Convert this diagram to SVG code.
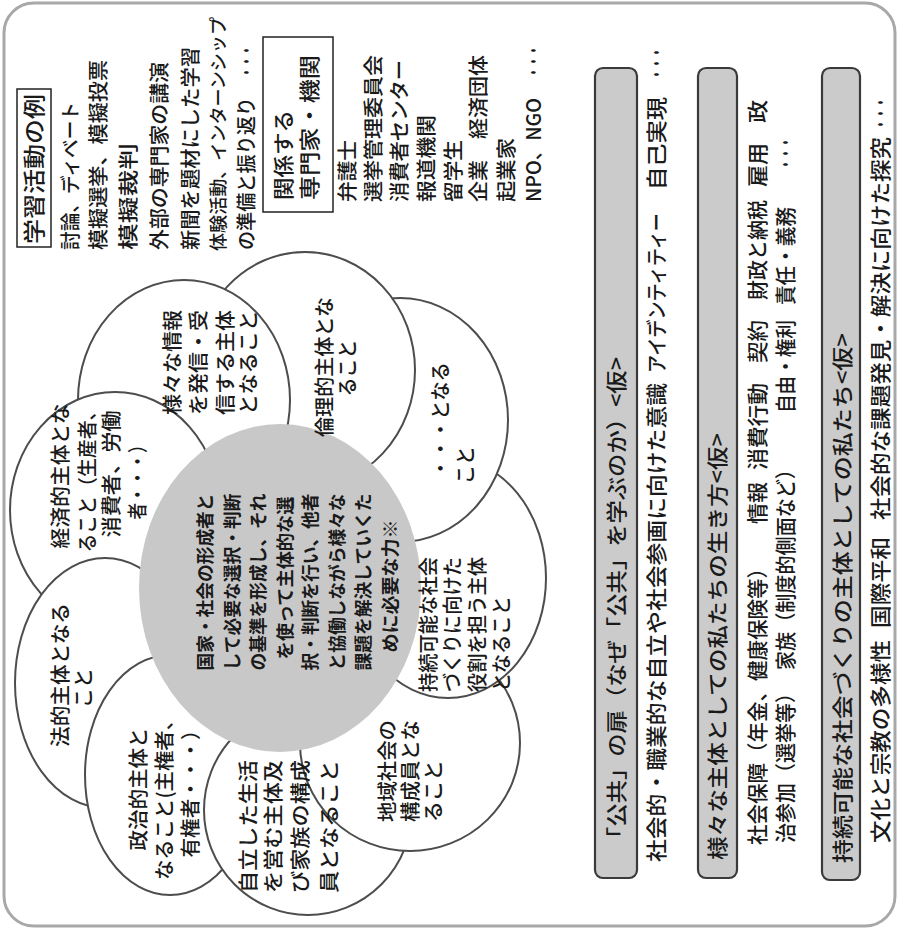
<svg xmlns="http://www.w3.org/2000/svg" width="898" height="930" viewBox="0 0 898 930">
<style>
text{font-family:"Noto Sans CJK JP","Noto Sans CJK SC",sans-serif;fill:#1a1a1a;font-size:20px;font-weight:500}
.f21{font-size:21px}
.b{font-weight:bold;font-size:18px}
.m{text-anchor:middle}
.p{fill:#fff;stroke:#4d4d4d;stroke-width:2}
.box{fill:#fff;stroke:#222;stroke-width:1.5}
.bar{fill:#cbcbcb;stroke:#3a3a3a;stroke-width:2.2}
</style>
<defs>
<clipPath id="clipA"><ellipse cx="184" cy="400" rx="108" ry="122"/></clipPath>
</defs>
<rect id="frame" x="4" y="3" width="891" height="923" rx="30" fill="#fff" stroke="#a8a8a8" stroke-width="3"/>

<g id="petals">
<g id="petal-I"><ellipse id="elI" class="p" cx="115" cy="510" rx="105" ry="118"/></g>
<g id="petal-H"><ellipse class="p" cx="105" cy="683" rx="90" ry="125"/></g>
<g id="petal-G"><ellipse class="p" cx="170" cy="775" rx="85" ry="120"/></g>
<g id="petal-F"><ellipse class="p" cx="308" cy="810" rx="104" ry="105"/></g>
<g id="petal-E"><ellipse class="p" cx="410" cy="743" rx="110" ry="108"/></g>
<g id="petal-D"><ellipse class="p" cx="448" cy="578" rx="98" ry="120"/></g>
<g id="petal-C"><ellipse class="p" cx="400" cy="420" rx="108" ry="122"/></g>
<g id="petal-B"><ellipse class="p" cx="305" cy="370" rx="110" ry="118"/></g>
<g id="petal-A"><ellipse class="p" cx="184" cy="400" rx="106" ry="120"/></g>
<g id="petal-I-over-A"><use href="#elI" clip-path="url(#clipA)"/></g>
</g>
<g id="center"><ellipse cx="280" cy="588" rx="141" ry="164" fill="#c8c8c8"/></g>
<g id="connectors"/>

<g id="learning-activities">
<rect class="box" x="17" y="89" width="34" height="158"/>
<text class="f21" style="font-size:22px" transform="translate(42,244) rotate(-90)" textLength="150" lengthAdjust="spacingAndGlyphs">学習活動の例</text>
<text transform="translate(78,250) rotate(-90)" textLength="148" lengthAdjust="spacingAndGlyphs">討論、ディベート</text>
<text transform="translate(106,250) rotate(-90)" textLength="190" lengthAdjust="spacingAndGlyphs">模擬選挙、模擬投票</text>
<text transform="translate(136,250) rotate(-90)" textLength="107" lengthAdjust="spacingAndGlyphs">模擬裁判</text>
<text transform="translate(167,250) rotate(-90)" textLength="188" lengthAdjust="spacingAndGlyphs">外部の専門家の講演</text>
<text transform="translate(198,250) rotate(-90)" textLength="203" lengthAdjust="spacingAndGlyphs">新聞を題材にした学習</text>
<text style="font-size:18px" transform="translate(225,251) rotate(-90)" textLength="234" lengthAdjust="spacingAndGlyphs">体験活動、インターンシップ</text>
<text transform="translate(254,250) rotate(-90)" textLength="153" lengthAdjust="spacingAndGlyphs">の準備と振り返り</text>
<text transform="translate(254,78) rotate(-90)" textLength="33" lengthAdjust="spacingAndGlyphs">・・・</text>
</g>

<g id="experts">
<rect class="box" x="263" y="37" width="70" height="175"/>
<text class="f21" transform="translate(291,200) rotate(-90)" textLength="90" lengthAdjust="spacingAndGlyphs">関係する</text>
<text class="f21" transform="translate(317,200) rotate(-90)" textLength="145" lengthAdjust="spacingAndGlyphs">専門家・機関</text>
<text transform="translate(355,202) rotate(-90)" textLength="62" lengthAdjust="spacingAndGlyphs">弁護士</text>
<text transform="translate(381,202) rotate(-90)" textLength="147" lengthAdjust="spacingAndGlyphs">選挙管理委員会</text>
<text transform="translate(407,202) rotate(-90)" textLength="142" lengthAdjust="spacingAndGlyphs">消費者センター</text>
<text transform="translate(434,202) rotate(-90)" textLength="87" lengthAdjust="spacingAndGlyphs">報道機関</text>
<text transform="translate(461,202) rotate(-90)" textLength="62" lengthAdjust="spacingAndGlyphs">留学生</text>
<text transform="translate(486,202) rotate(-90)" textLength="147" lengthAdjust="spacingAndGlyphs">企業　経済団体</text>
<text transform="translate(514,202) rotate(-90)" textLength="64" lengthAdjust="spacingAndGlyphs">起業家</text>
<text transform="translate(541,202) rotate(-90)" textLength="104" lengthAdjust="spacingAndGlyphs">NPO、NGO</text>
<text transform="translate(541,78) rotate(-90)" textLength="33" lengthAdjust="spacingAndGlyphs">・・・</text>
</g>

<g id="panel-1">
<rect class="bar" x="595" y="68" width="42" height="810" rx="8"/>
<text class="f21" transform="translate(624,850) rotate(-90)" textLength="493" lengthAdjust="spacingAndGlyphs">「公共」の扉（なぜ「公共」を学ぶのか）&lt;仮&gt;</text>
<text class="f21" transform="translate(664,862) rotate(-90)" textLength="479" lengthAdjust="spacingAndGlyphs">社会的・職業的な自立や社会参画に向けた意識</text>
<text class="f21" transform="translate(664,373) rotate(-90)" textLength="160" lengthAdjust="spacingAndGlyphs">アイデンティティー</text>
<text class="f21" transform="translate(664,190) rotate(-90)" textLength="93" lengthAdjust="spacingAndGlyphs">自己実現</text>
<text class="f21" transform="translate(664,80) rotate(-90)" textLength="33" lengthAdjust="spacingAndGlyphs">・・・</text>
</g>

<g id="panel-2">
<rect class="bar" x="698" y="68" width="39" height="810" rx="8"/>
<text class="f21" transform="translate(725,860) rotate(-90)" textLength="427" lengthAdjust="spacingAndGlyphs">様々な主体としての私たちの生き方&lt;仮&gt;</text>
<text class="f21" transform="translate(765,845) rotate(-90)" textLength="287" lengthAdjust="spacingAndGlyphs">社会保障（年金、健康保険等）</text>
<text class="f21" transform="translate(765,524) rotate(-90)" textLength="42" lengthAdjust="spacingAndGlyphs">情報</text>
<text class="f21" transform="translate(765,470) rotate(-90)" textLength="87" lengthAdjust="spacingAndGlyphs">消費行動</text>
<text class="f21" transform="translate(765,363) rotate(-90)" textLength="43" lengthAdjust="spacingAndGlyphs">契約</text>
<text class="f21" transform="translate(765,300) rotate(-90)" textLength="100" lengthAdjust="spacingAndGlyphs">財政と納税</text>
<text class="f21" transform="translate(765,187) rotate(-90)" textLength="44" lengthAdjust="spacingAndGlyphs">雇用</text>
<text class="f21" transform="translate(765,123) rotate(-90)" textLength="23" lengthAdjust="spacingAndGlyphs">政</text>
<text class="f21" transform="translate(793,843) rotate(-90)" textLength="160" lengthAdjust="spacingAndGlyphs">治参加（選挙等）</text>
<text class="f21" transform="translate(793,670) rotate(-90)" textLength="210" lengthAdjust="spacingAndGlyphs">家族（制度的側面など）</text>
<text class="f21" transform="translate(793,413) rotate(-90)" textLength="93" lengthAdjust="spacingAndGlyphs">自由・権利</text>
<text class="f21" transform="translate(793,305) rotate(-90)" textLength="98" lengthAdjust="spacingAndGlyphs">責任・義務</text>
<text class="f21" transform="translate(793,170) rotate(-90)" textLength="33" lengthAdjust="spacingAndGlyphs">・・・</text>
</g>

<g id="panel-3">
<rect class="bar" x="822" y="68" width="38" height="812" rx="8"/>
<text class="f21" transform="translate(850,863) rotate(-90)" textLength="530" lengthAdjust="spacingAndGlyphs">持続可能な社会づくりの主体としての私たち&lt;仮&gt;</text>
<text class="f21" transform="translate(888,843) rotate(-90)" textLength="203" lengthAdjust="spacingAndGlyphs">文化と宗教の多様性</text>
<text class="f21" transform="translate(888,628) rotate(-90)" textLength="91" lengthAdjust="spacingAndGlyphs">国際平和</text>
<text class="f21" transform="translate(888,520) rotate(-90)" textLength="383" lengthAdjust="spacingAndGlyphs">社会的な課題発見・解決に向けた探究</text>
<text class="f21" transform="translate(888,130) rotate(-90)" textLength="33" lengthAdjust="spacingAndGlyphs">・・・</text>
</g>

<g id="label-A">
<text transform="translate(180,415) rotate(-90)" textLength="105" lengthAdjust="spacingAndGlyphs">様々な情報</text>
<text transform="translate(206,415) rotate(-90)" textLength="105" lengthAdjust="spacingAndGlyphs">を発信・受</text>
<text transform="translate(233,415) rotate(-90)" textLength="105" lengthAdjust="spacingAndGlyphs">信する主体</text>
<text transform="translate(256,415) rotate(-90)" textLength="105" lengthAdjust="spacingAndGlyphs">となること</text>
</g>
<g id="label-B">
<text class="m" transform="translate(332,367) rotate(-90)" textLength="140" lengthAdjust="spacingAndGlyphs">倫理的主体とな</text>
<text class="m" transform="translate(355,368) rotate(-90)" textLength="57" lengthAdjust="spacingAndGlyphs">ること</text>
</g>
<g id="label-C">
<text transform="translate(448,478) rotate(-90)" textLength="116" lengthAdjust="spacingAndGlyphs">・・・となる</text>
<text transform="translate(473,484) rotate(-90)" textLength="38" lengthAdjust="spacingAndGlyphs">こと</text>
</g>
<g id="label-D">
<text transform="translate(436,692) rotate(-90)" textLength="135" lengthAdjust="spacingAndGlyphs">持続可能な社会</text>
<text transform="translate(460,692) rotate(-90)" textLength="135" lengthAdjust="spacingAndGlyphs">づくりに向けた</text>
<text transform="translate(485,692) rotate(-90)" textLength="135" lengthAdjust="spacingAndGlyphs">役割を担う主体</text>
<text transform="translate(509,692) rotate(-90)" textLength="96" lengthAdjust="spacingAndGlyphs">となること</text>
</g>
<g id="label-E">
<text transform="translate(395,822) rotate(-90)" textLength="102" lengthAdjust="spacingAndGlyphs">地域社会の</text>
<text transform="translate(418,822) rotate(-90)" textLength="102" lengthAdjust="spacingAndGlyphs">構成員とな</text>
<text transform="translate(441,822) rotate(-90)" textLength="62" lengthAdjust="spacingAndGlyphs">ること</text>
</g>
<g id="label-F">
<text transform="translate(256,893) rotate(-90)" textLength="133" lengthAdjust="spacingAndGlyphs">自立した生活</text>
<text transform="translate(281,893) rotate(-90)" textLength="133" lengthAdjust="spacingAndGlyphs">を営む主体及</text>
<text transform="translate(308,893) rotate(-90)" textLength="133" lengthAdjust="spacingAndGlyphs">び家族の構成</text>
<text transform="translate(337,893) rotate(-90)" textLength="133" lengthAdjust="spacingAndGlyphs">員となること</text>
</g>
<g id="label-G">
<text class="m" transform="translate(146,789) rotate(-90)" textLength="123" lengthAdjust="spacingAndGlyphs">政治的主体と</text>
<text class="m" transform="translate(172,795) rotate(-90)" textLength="170" lengthAdjust="spacingAndGlyphs">なること(主権者、</text>
<text class="m" transform="translate(198,789) rotate(-90)" textLength="137" lengthAdjust="spacingAndGlyphs">有権者・・・）</text>
</g>
<g id="label-H">
<text class="m" transform="translate(68,675) rotate(-90)" textLength="144" lengthAdjust="spacingAndGlyphs">法的主体となる</text>
<text class="m" transform="translate(91,688) rotate(-90)" textLength="40" lengthAdjust="spacingAndGlyphs">こと</text>
</g>
<g id="label-I">
<text class="m" transform="translate(68,476) rotate(-90)" textLength="145" lengthAdjust="spacingAndGlyphs">経済的主体とな</text>
<text class="m" transform="translate(95,477) rotate(-90)" textLength="151" lengthAdjust="spacingAndGlyphs">ること（生産者、</text>
<text class="m" transform="translate(119,474) rotate(-90)" textLength="127" lengthAdjust="spacingAndGlyphs">消費者、労働</text>
<text class="m" transform="translate(145,478) rotate(-90)" textLength="83" lengthAdjust="spacingAndGlyphs">者・・・）</text>
</g>
<g id="label-center">
<text class="b m" transform="translate(212,582) rotate(-90)" textLength="177" lengthAdjust="spacingAndGlyphs">国家・社会の形成者と</text>
<text class="b m" transform="translate(239,582) rotate(-90)" textLength="177" lengthAdjust="spacingAndGlyphs">して必要な選択・判断</text>
<text class="b m" transform="translate(265,582) rotate(-90)" textLength="177" lengthAdjust="spacingAndGlyphs">の基準を形成し、それ</text>
<text class="b m" transform="translate(292,578) rotate(-90)" textLength="163" lengthAdjust="spacingAndGlyphs">を使って主体的な選</text>
<text class="b m" transform="translate(317,582) rotate(-90)" textLength="177" lengthAdjust="spacingAndGlyphs">択・判断を行い、他者</text>
<text class="b m" transform="translate(344,582) rotate(-90)" textLength="177" lengthAdjust="spacingAndGlyphs">と協働しながら様々な</text>
<text class="b m" transform="translate(370,582) rotate(-90)" textLength="177" lengthAdjust="spacingAndGlyphs">課題を解決していくた</text>
<text class="b m" transform="translate(397,586) rotate(-90)" textLength="133" lengthAdjust="spacingAndGlyphs">めに必要な力※</text>
</g>
</svg>
